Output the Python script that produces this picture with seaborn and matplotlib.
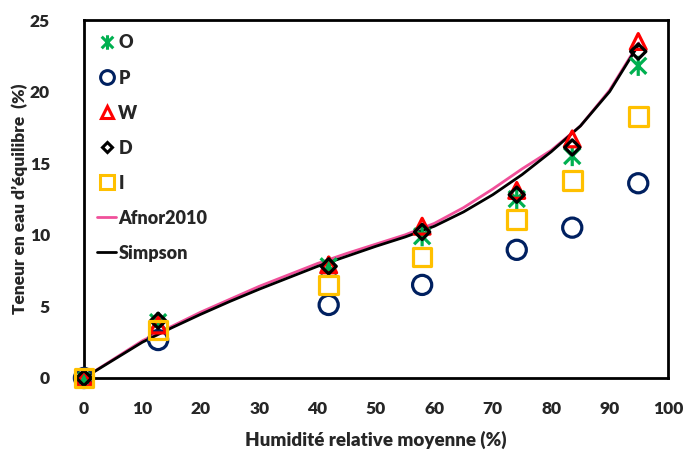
import matplotlib
matplotlib.use('Agg')
import matplotlib.pyplot as plt
import seaborn as sns
from matplotlib.path import Path

sns.set_style('white')
plt.rcParams['font.family'] = ['Lato', 'DejaVu Sans']

# Relative humidity of the measurement points (%)
rh = [0, 12.7, 41.9, 57.9, 74.1, 83.6, 94.9]

# Equilibrium moisture content (%) for each species
o_vals = [0, 3.9, 7.8, 9.9, 12.5, 15.5, 21.8]
p_vals = [0, 2.65, 5.1, 6.5, 8.95, 10.5, 13.6]
w_vals = [0, 3.7, 7.9, 10.6, 13.1, 16.7, 23.5]
d_vals = [0, 4.0, 7.8, 10.2, 12.8, 16.1, 22.8]
i_vals = [0, 3.35, 6.5, 8.45, 11.05, 13.8, 18.25]

# Model curves
curve_rh = [0, 5, 10, 15, 20, 25, 30, 35, 40, 45, 50, 55, 60, 65, 70, 75, 80, 85, 90, 95]
afnor = [0, 1.3, 2.6, 3.6, 4.6, 5.5, 6.4, 7.2, 8.0, 8.7, 9.35, 10.0, 10.8, 11.9, 13.2, 14.6, 15.9, 17.6, 20.1, 23.4]
simpson = [0, 1.25, 2.5, 3.5, 4.45, 5.35, 6.2, 7.0, 7.8, 8.5, 9.2, 9.85, 10.6, 11.6, 12.8, 14.2, 15.8, 17.6, 20.0, 23.3]

star = Path([(0, -1), (0, 1), (-0.8, -0.8), (0.8, 0.8), (-0.8, 0.8), (0.8, -0.8)],
            [Path.MOVETO, Path.LINETO, Path.MOVETO, Path.LINETO, Path.MOVETO, Path.LINETO])

fig = plt.figure(figsize=(6.86, 4.57), dpi=100)
ax = fig.add_axes([0.1224, 0.1729, 0.8514, 0.7833])

sns.lineplot(x=curve_rh, y=afnor, color='#F0509A', lw=2, ax=ax, label='Afnor2010', zorder=1)
sns.lineplot(x=curve_rh, y=simpson, color='black', lw=2, ax=ax, label='Simpson', zorder=2)

series = [
    ('O', o_vals, star, '#00B050', 210),
    ('P', p_vals, 'o', '#002060', 190),
    ('W', w_vals, '^', '#FF0000', 130),
    ('D', d_vals, 'D', 'black', 60),
    ('I', i_vals, 's', '#FFC000', 180),
]
handles = []
for name, vals, mk, col, sz in series:
    sns.scatterplot(x=rh, y=vals, marker=mk, s=sz, facecolors='none', edgecolor=col,
                    linewidth=2.3, ax=ax, zorder=3, clip_on=False)
    h, = ax.plot([], [], marker=mk, linestyle='none', markersize=(sz ** 0.5) * 0.72,
                 markerfacecolor='none', markeredgecolor=col, color=col, markeredgewidth=2.2)
    handles.append((h, name))

line_handles, line_labels = ax.get_legend_handles_labels()
line_pairs = [(h, l) for h, l in zip(line_handles, line_labels) if l in ('Afnor2010', 'Simpson')]
all_pairs = handles + line_pairs
ax.legend([p[0] for p in all_pairs], [p[1] for p in all_pairs], loc='upper left',
          frameon=False, handlelength=1.1, handletextpad=0.1, labelspacing=1.0,
          prop={'weight': 'heavy', 'size': 13}, borderaxespad=0.3, bbox_to_anchor=(0.0, 0.995))

ax.set_xlim(0, 100)
ax.set_ylim(0, 25)
ax.set_xticks(range(0, 101, 10))
ax.set_yticks(range(0, 26, 5))
ax.tick_params(axis='x', pad=12)
ax.tick_params(axis='y', pad=20)
ax.tick_params(direction='inout', length=9, width=1.5, labelsize=12.5)
for lab in ax.get_xticklabels() + ax.get_yticklabels():
    lab.set_fontweight('heavy')
for sp in ax.spines.values():
    sp.set_linewidth(2)
    sp.set_color('black')

ax.set_xlabel('Humidité relative moyenne (%)', fontsize=13.5, fontweight='heavy', labelpad=10)
ax.set_ylabel('Teneur en eau d\u2019équilibre  (%)', fontsize=12.5, fontweight='heavy', labelpad=1)

fig.savefig('out.png', dpi=100)
